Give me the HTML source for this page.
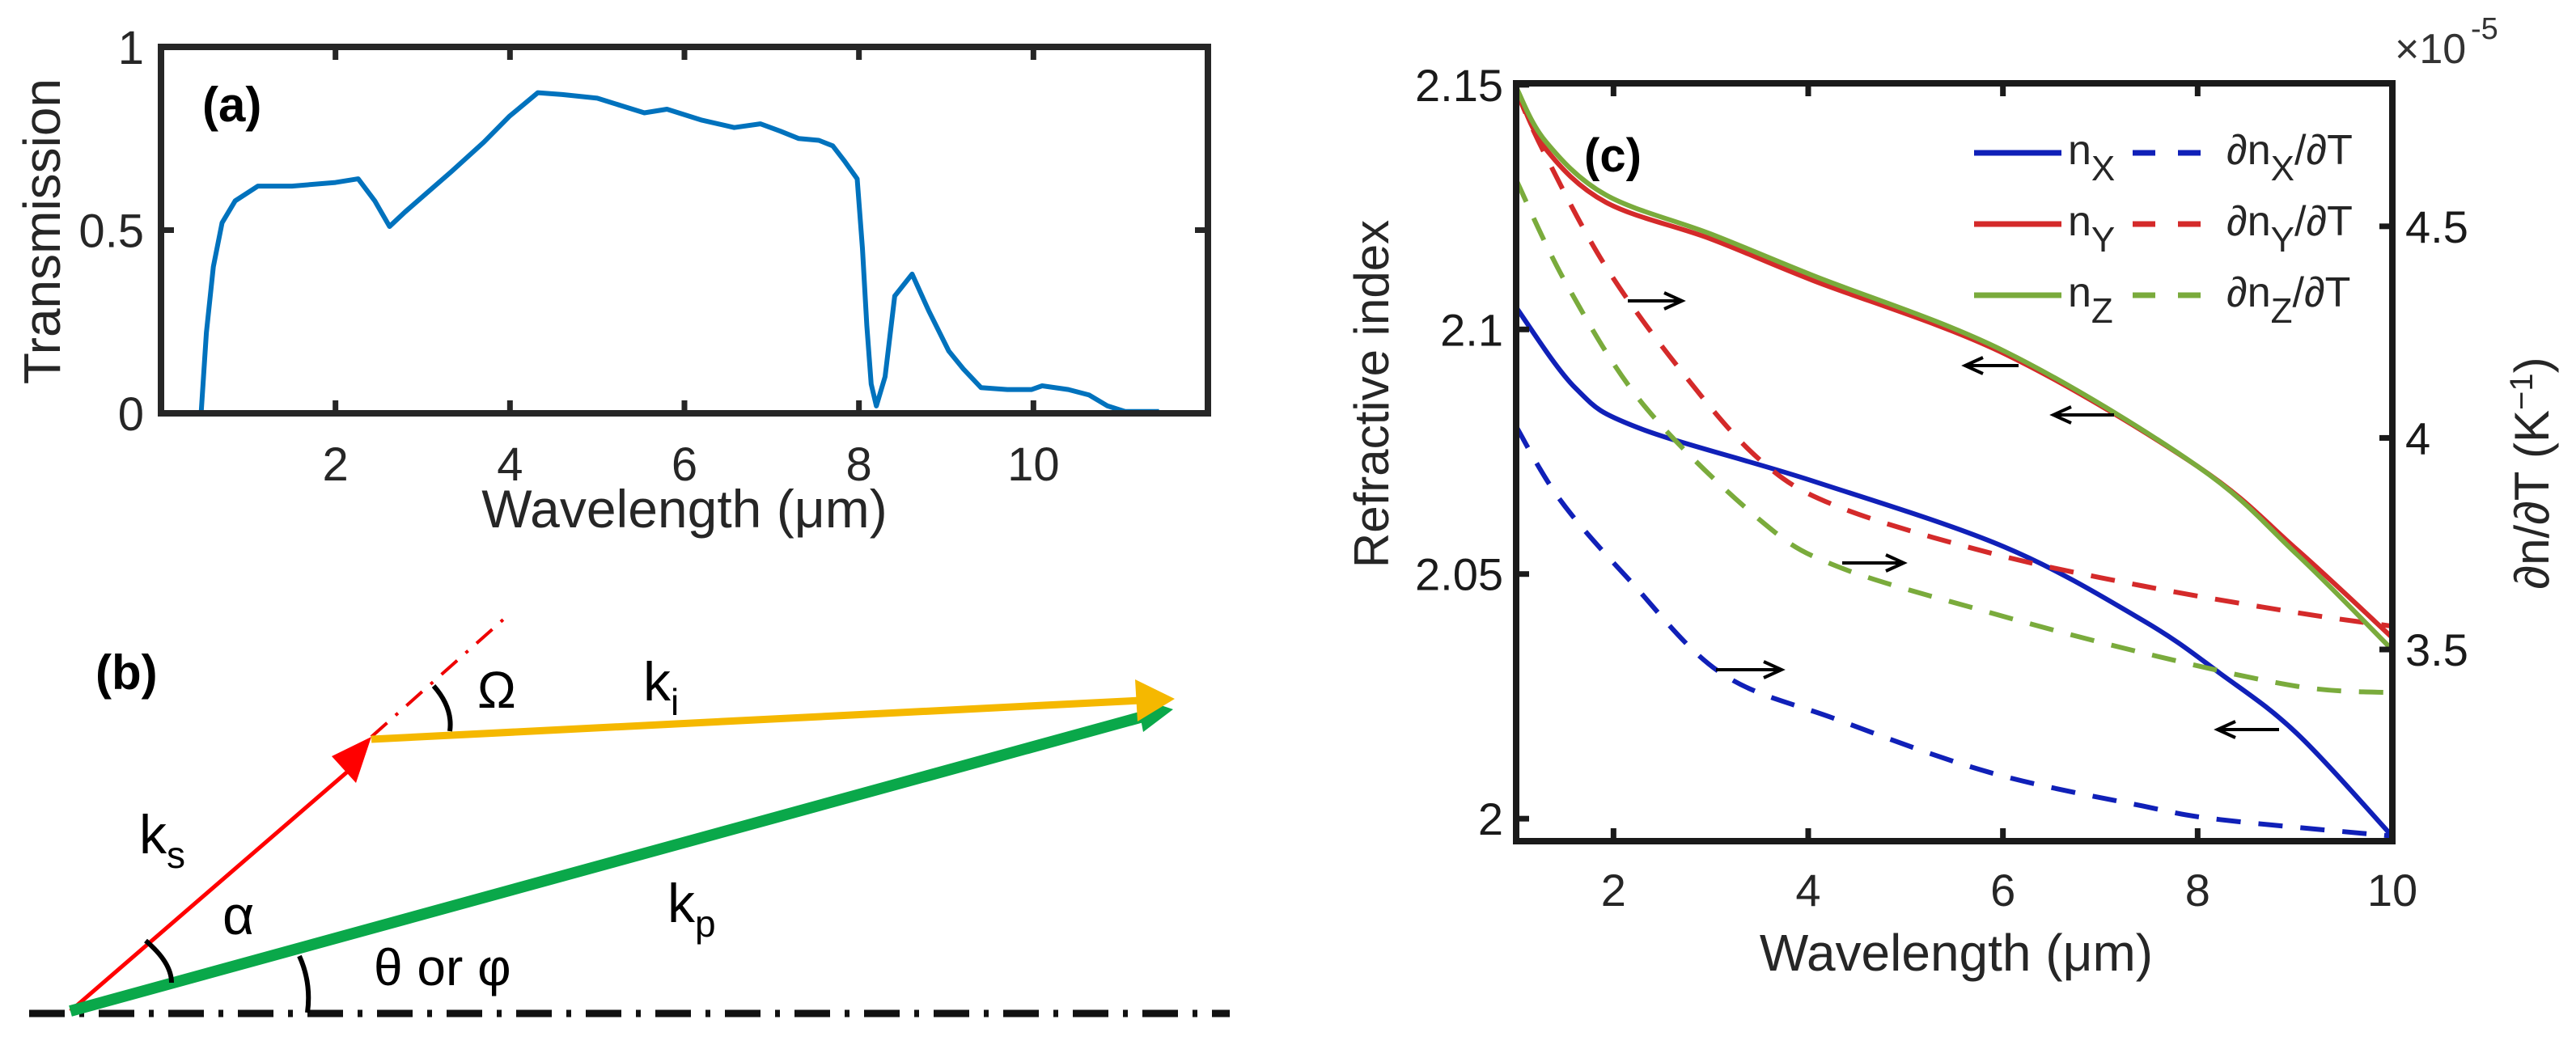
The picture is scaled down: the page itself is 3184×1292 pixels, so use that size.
<!DOCTYPE html>
<html><head><meta charset="utf-8"><style>
html,body{margin:0;padding:0;background:#fff;}
svg{display:block;font-family:"Liberation Sans Narrow","Liberation Sans",sans-serif;}
</style></head><body>
<svg id="fig" width="3184" height="1292" viewBox="0 0 3184 1292" xmlns="http://www.w3.org/2000/svg">
<g id="pa"></g>
<g id="pb">
  <line x1="36" y1="1253" x2="1520" y2="1253" stroke="#111" stroke-width="9" stroke-dasharray="44 18 6 18"/>
  <line x1="459" y1="911" x2="622" y2="766" stroke="#e00" stroke-width="4" stroke-dasharray="26 14 4 14"/>
  <line x1="87" y1="1250" x2="440" y2="945" stroke="#f00" stroke-width="5"/>
  <polygon points="459,911 410,935 440,968" fill="#f00"/>
  <line x1="87" y1="1250" x2="1420" y2="884" stroke="#0aa84a" stroke-width="14"/>
  <polygon points="1450,877 1405,862 1413,905" fill="#0aa84a"/>
  <line x1="459" y1="914" x2="1410" y2="866" stroke="#f5b800" stroke-width="9"/>
  <polygon points="1452,864 1403,840 1406,892" fill="#f5b800"/>
  <path d="M180,1163 Q212,1190 212,1215" fill="none" stroke="#000" stroke-width="6"/>
  <path d="M370,1182 Q385,1215 380,1252" fill="none" stroke="#000" stroke-width="6"/>
  <path d="M536,848 Q560,875 556,904" fill="none" stroke="#000" stroke-width="6"/>
  <text x="118" y="852" font-size="60" font-family="Liberation Sans,sans-serif" font-weight="bold">(b)</text>
  <text x="590" y="875" font-size="64">Ω</text>
  <text x="795" y="866" font-size="68">k<tspan font-size="46" dy="18">i</tspan></text>
  <text x="172" y="1055" font-size="68">k<tspan font-size="46" dy="18">s</tspan></text>
  <text x="275" y="1155" font-size="68">α</text>
  <text x="825" y="1140" font-size="68">k<tspan font-size="46" dy="18">p</tspan></text>
  <text x="462" y="1218" font-size="64">θ or φ</text>
</g>
<g id="pc"></g>
</svg>
<script>
const NS="http://www.w3.org/2000/svg";
// ---- Panel (a) data ----
const transWl=[0.46,0.52,0.6,0.7,0.85,1.11,1.5,2.0,2.26,2.45,2.62,2.8,3.33,3.7,3.99,4.32,4.6,5.0,5.54,5.8,6.2,6.57,6.87,7.1,7.31,7.54,7.7,7.83,7.98,8.04,8.09,8.14,8.2,8.3,8.41,8.61,8.8,9.03,9.2,9.4,9.7,9.98,10.1,10.4,10.64,10.85,11.05,11.44];
const transVal=[0.0,0.22,0.4,0.52,0.58,0.62,0.62,0.63,0.64,0.58,0.51,0.55,0.66,0.74,0.81,0.875,0.87,0.86,0.82,0.83,0.8,0.78,0.79,0.77,0.75,0.745,0.73,0.69,0.64,0.45,0.24,0.08,0.02,0.1,0.32,0.38,0.28,0.17,0.12,0.07,0.065,0.065,0.075,0.065,0.05,0.02,0.005,0.005];
const aXTicks=[2,4,6,8,10];
const aYTicks=[0,0.5,1];
const aYLabels=["0","0.5","1"];
// ---- Panel (c) data ----
const cWlX=[1,1.61,2.24,4.05,6.02,7.44,8.23,9.02,10];
const nXVals=[2.1045,2.088,2.080,2.069,2.0555,2.0405,2.0297,2.0174,1.9964];
const cWl=[1,1.3,1.92,3,4.05,6.02,8,9.02,10];
const nYVals=[2.1493,2.137,2.126,2.1185,2.110,2.095,2.072,2.055,2.037];
const nZVals=[2.1495,2.1385,2.1275,2.1195,2.111,2.0955,2.072,2.054,2.0345];
const dWlX=[1,1.45,2.16,3.1,4.29,5.87,7.44,8.23,10];
const dnXVals=[4.027,3.854,3.665,3.445,3.335,3.209,3.13,3.098,3.059];
const dWl=[1,1.29,1.92,2.71,3.5,4.29,5.87,7.44,9.02,10];
const dnYVals=[4.82,4.673,4.405,4.154,3.949,3.839,3.728,3.65,3.587,3.555];
const dWlZ=[1,1.53,2.32,3.5,4.29,5.87,7.44,9.02,10];
const dnZVals=[4.61,4.358,4.075,3.807,3.697,3.587,3.492,3.413,3.398];
const cXTicks=[2,4,6,8,10];
const cYLTicks=[2,2.05,2.1,2.15];
const cYLLabels=["2","2.05","2.1","2.15"];
const cYRTicks=[3.5,4,4.5];
const cYRLabels=["3.5","4","4.5"];

function mk(parent,tag,attrs,text){const e=document.createElementNS(NS,tag);for(const k in attrs)e.setAttribute(k,attrs[k]);if(text!==undefined)e.textContent=text;parent.appendChild(e);return e;}
function smooth(pts){let d="M"+pts[0][0]+","+pts[0][1];for(let i=0;i<pts.length-1;i++){const p0=pts[Math.max(0,i-1)],p1=pts[i],p2=pts[i+1],p3=pts[Math.min(pts.length-1,i+2)];const c1=[p1[0]+(p2[0]-p0[0])/6,p1[1]+(p2[1]-p0[1])/6],c2=[p2[0]-(p3[0]-p1[0])/6,p2[1]-(p3[1]-p1[1])/6];d+=" C"+c1[0].toFixed(1)+","+c1[1].toFixed(1)+" "+c2[0].toFixed(1)+","+c2[1].toFixed(1)+" "+p2[0].toFixed(1)+","+p2[1].toFixed(1);}return d;}

// ---- Panel (a) ----
(function(){
const g=document.getElementById('pa');
const L=199,R=1493,T=58,B=511;
const xs=v=>L+(v-0)/12*(R-L), ys=v=>B-v*(B-T);
const pts=transWl.map((w,i)=>[xs(w),ys(transVal[i])]);
const line=mk(g,'path',{d:"M"+pts.map(p=>p[0].toFixed(1)+","+p[1].toFixed(1)).join(" L"),fill:"none",stroke:"#0072bd","stroke-width":6,"stroke-linejoin":"round"});


aXTicks.forEach(t=>{const x=xs(t);
 const tk=mk(g,'path',{d:`M${x},${B} v-16 M${x},${T} v16`,stroke:"#262626","stroke-width":7});
 
 
 const lb=mk(g,'text',{x:x,y:594,"font-size":58,"text-anchor":"middle",fill:"#262626"},String(t));
 
 });
aYTicks.forEach((t,i)=>{const y=ys(t);
 const tk=mk(g,'path',{d:`M${L},${y} h16 M${R},${y} h-16`,stroke:"#262626","stroke-width":7});
 
 
 const lb=mk(g,'text',{x:178,y:y+21,"font-size":58,"text-anchor":"end",fill:"#262626"},aYLabels[i]);
 
 });
const box=mk(g,'rect',{x:L,y:T,width:R-L,height:B-T,fill:"none",stroke:"#262626","stroke-width":8});


const xl=mk(g,'text',{x:846,y:652,"font-size":66,"text-anchor":"middle",fill:"#262626"},"Wavelength (μm)");


const yl=mk(g,'text',{x:0,y:0,"font-size":64,"text-anchor":"middle",fill:"#262626",transform:"translate(74,286) rotate(-90)"},"Transmission");


const pl=mk(g,'text',{x:250,y:150,"font-size":60,"font-weight":"bold","font-family":"Liberation Sans,sans-serif"},"(a)");


})();

// ---- Panel (c) ----
(function(){
const g=document.getElementById('pc');
const L=1874,R=2957,T=103,B=1040;
const xs=v=>L+(v-1)/9*(R-L);
const yl=v=>B-(v-1.9954)/(2.1503-1.9954)*(B-T);
const yr=v=>B-(v-3.047)/(4.838-3.047)*(B-T);
const series=[
 [cWlX,nXVals,yl,"#1020b8",false,'nx-curve'],
 [dWlX,dnXVals,yr,"#1020b8",true,'dnx-dt-curve'],
 [dWl,dnYVals,yr,"#d42a2a",true,'dny-dt-curve'],
 [dWlZ,dnZVals,yr,"#7aab3c",true,'dnz-dt-curve'],
 [cWl,nYVals,yl,"#d42a2a",false,'ny-curve'],
 [cWl,nZVals,yl,"#7aab3c",false,'nz-curve']];
series.forEach(s=>{const pts=s[0].map((w,i)=>[xs(w),s[2](s[1][i])]);
 const p=mk(g,'path',{d:smooth(pts),fill:"none",stroke:s[3],"stroke-width":6});
 if(s[4])p.setAttribute('stroke-dasharray','30 22');
 
 });
[[2012,2079,372,1],[2277,2353,696,1],[2121,2202,828,1],[2495,2429,452,-1],[2613,2538,513,-1],[2817,2741,902,-1]].forEach(a=>{
 const tip=a[1],dir=a[3];
 const ar=mk(g,'path',{d:`M${a[0]},${a[2]} L${tip},${a[2]} M${tip-dir*22},${a[2]-10} L${tip},${a[2]} L${tip-dir*22},${a[2]+10}`,fill:"none",stroke:"#000","stroke-width":4});
 
 });
cXTicks.forEach(t=>{const x=xs(t);
 const tk=mk(g,'path',{d:`M${x},${B} v-16 M${x},${T} v16`,stroke:"#1a1a1a","stroke-width":7});
 
 
 const lb=mk(g,'text',{x:x,y:1120,"font-size":56,"text-anchor":"middle",fill:"#262626"},String(t));
 
 });
cYLTicks.forEach((t,i)=>{const y=yl(t);
 const tk=mk(g,'path',{d:`M${L},${y} h16`,stroke:"#1a1a1a","stroke-width":7});
 
 
 const lb=mk(g,'text',{x:1858,y:y+20,"font-size":56,"text-anchor":"end",fill:"#1a1a1a"},cYLLabels[i]);
 
 });
cYRTicks.forEach((t,i)=>{const y=yr(t);
 const tk=mk(g,'path',{d:`M${R},${y} h-16`,stroke:"#1a1a1a","stroke-width":7});
 
 
 const lb=mk(g,'text',{x:2973,y:y+20,"font-size":56,fill:"#1a1a1a"},cYRLabels[i]);
 
 });
const box=mk(g,'rect',{x:L,y:T,width:R-L,height:B-T,fill:"none",stroke:"#1a1a1a","stroke-width":8});


const ex=mk(g,'text',{x:2960,y:78,"font-size":52,fill:"#333"},"×10");


const ex2=mk(g,'text',{x:3054,y:48,"font-size":38,fill:"#333"},"-5");


const xt=mk(g,'text',{x:2418,y:1200,"font-size":64,"text-anchor":"middle",fill:"#262626"},"Wavelength (μm)");


const ylt=mk(g,'text',{x:0,y:0,"font-size":60,"text-anchor":"middle",fill:"#262626",transform:"translate(1716,487) rotate(-90)"},"Refractive index");


const yrt=mk(g,'text',{x:0,y:0,"font-size":60,"text-anchor":"middle",fill:"#262626",transform:"translate(3150,585) rotate(-90)"});


yrt.innerHTML='∂n/∂T (K<tspan font-size="40" dy="-20">−1</tspan><tspan dy="20">)</tspan>';
const pl=mk(g,'text',{x:1958,y:212,"font-size":58,"font-weight":"bold","font-family":"Liberation Sans,sans-serif"},"(c)");


[["X","#1020b8",189],["Y","#d42a2a",277],["Z","#7aab3c",365]].forEach(r=>{
 const y=r[2];
 const s=mk(g,'line',{x1:2440,y1:y,x2:2548,y2:y,stroke:r[1],"stroke-width":7});
 
 
 const d=mk(g,'line',{x1:2636,y1:y,x2:2720,y2:y,stroke:r[1],"stroke-width":7,"stroke-dasharray":"28 28"});
 
 
 const t1=mk(g,'text',{x:2556,y:y+14,"font-size":52,fill:"#262626"});
 t1.innerHTML='n<tspan font-size="44" dy="20">'+r[0]+'</tspan>';
 
 
 const t2=mk(g,'text',{x:2752,y:y+14,"font-size":52,fill:"#262626"});
 t2.innerHTML='∂n<tspan font-size="44" dy="20">'+r[0]+'</tspan><tspan dy="-20">/∂T</tspan>';
 
 });
})();
</script>
</body></html>
